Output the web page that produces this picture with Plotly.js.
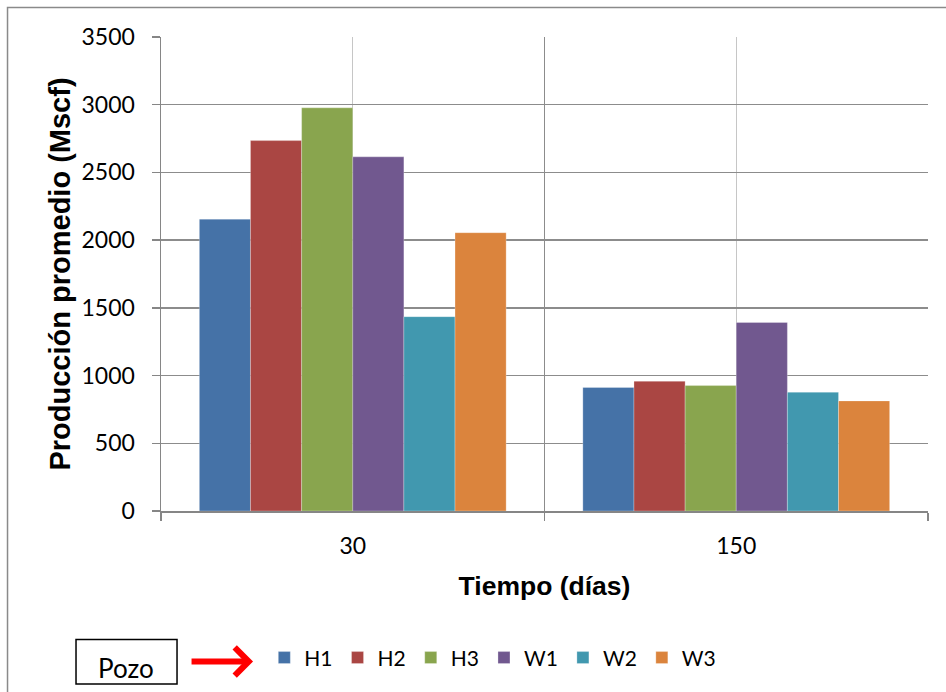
<!DOCTYPE html>
<html>
<head>
<meta charset="utf-8">
<script src="https://cdn.plot.ly/plotly-3.0.1.min.js"></script>
<style>
  html, body { margin: 0; padding: 0; background: #fff; }
  #chart { width: 946px; height: 692px; }
</style>
</head>
<body>
<div id="chart"></div>
<script>
// ---- Data ----
const categories = ['30', '150'];          // Tiempo (días)
const seriesNames = ['H1', 'H2', 'H3', 'W1', 'W2', 'W3'];
const H1 = [2155, 912];
const H2 = [2735, 958];
const H3 = [2977, 926];
const W1 = [2615, 1392];
const W2 = [1435, 877];
const W3 = [2055, 813];
const yTickVals = [0, 500, 1000, 1500, 2000, 2500, 3000, 3500];

const seriesValues = [H1, H2, H3, W1, W2, W3];
const colors = ['#4572A7', '#AA4643', '#89A54E', '#71588F', '#4198AF', '#DB843D'];
const xIdx = categories.map((c, i) => i);

const traces = seriesNames.map((name, k) => ({
  type: 'bar',
  name: name,
  x: xIdx,
  y: seriesValues[k],
  marker: { color: colors[k], line: { width: 0.6, color: 'rgba(255,255,255,0.45)' } },
  hoverinfo: 'name+y'
}));

const titleFont = { family: '"Liberation Sans", Arial, sans-serif', color: '#000' };
const tickFont = { family: 'Lato, "Open Sans", sans-serif', size: 23, color: '#000' };

const layout = {
  width: 946,
  height: 692,
  margin: { l: 161, r: 18, t: 37, b: 181 },
  paper_bgcolor: '#ffffff',
  plot_bgcolor: '#ffffff',
  barmode: 'group',
  bargap: 0.2,
  bargroupgap: 0,
  showlegend: true,
  xaxis: {
    range: [-0.5, categories.length - 0.5],
    tickmode: 'array',
    tickvals: xIdx,
    ticktext: categories,
    ticks: 'outside',
    ticklen: 14,
    tickcolor: 'rgba(0,0,0,0)',
    tickfont: tickFont,
    showgrid: true,
    gridcolor: '#c6c6c6',
    gridwidth: 1,
    showline: true,
    linecolor: '#868686',
    linewidth: 1.5,
    zeroline: false,
    minor: {
      tickmode: 'array',
      tickvals: [-0.5, 0.5, 1.5],
      ticks: 'outside',
      ticklen: 8,
      tickcolor: '#868686',
      tickwidth: 1.5,
      showgrid: true,
      gridcolor: '#8c8c8c',
      gridwidth: 1.5
    },
    title: {
      text: 'Tiempo (días)',
      font: Object.assign({ size: 26.5, weight: 'bold' }, titleFont),
      standoff: 18
    },
    fixedrange: true
  },
  yaxis: {
    range: [0, 3500],
    tickmode: 'array',
    tickvals: yTickVals,
    ticks: 'outside',
    ticklen: 8,
    tickcolor: '#868686',
    tickwidth: 1.5,
    tickfont: tickFont,
    ticklabelstandoff: 12,
    showgrid: true,
    gridcolor: '#8c8c8c',
    gridwidth: 1.5,
    showline: true,
    linecolor: '#868686',
    linewidth: 1.5,
    zeroline: false,
    title: {
      text: 'Producción promedio (Mscf)',
      font: Object.assign({ size: 29, weight: 'bold' }, titleFont),
      standoff: 2
    },
    fixedrange: true
  },
  legend: {
    orientation: 'h',
    x: 0.1347,
    xanchor: 'left',
    y: -0.31,
    yanchor: 'middle',
    font: { family: 'Lato, "Open Sans", sans-serif', size: 21, color: '#000' },
    itemwidth: 30,
    traceorder: 'normal',
    bgcolor: 'rgba(0,0,0,0)'
  },
  shapes: [
    { type: 'rect', xref: 'paper', yref: 'paper',
      x0: -0.2001, x1: 1.05, y0: -0.45, y1: 1.0622,
      line: { color: '#8a8a8a', width: 1.5 }, fillcolor: 'rgba(0,0,0,0)', layer: 'below' },
    { type: 'rect', xref: 'paper', yref: 'paper',
      x0: -0.1108, x1: 0.0209, y0: -0.365, y1: -0.2711,
      line: { color: '#000', width: 1.5 }, fillcolor: 'rgba(0,0,0,0)' }
  ],
  annotations: [
    { xref: 'paper', yref: 'paper', x: -0.045, y: -0.331,
      text: 'Pozo', showarrow: false, xanchor: 'center', yanchor: 'middle',
      font: { family: 'Lato, "Open Sans", sans-serif', size: 26, color: '#000' } },
    { xref: 'paper', yref: 'paper', x: 0.12, y: -0.3175,
      text: '', showarrow: true, ax: -63, ay: 0,
      arrowhead: 4, arrowwidth: 6, arrowsize: 0.9, arrowcolor: '#ff0000', standoff: 0 }
  ]
};

Plotly.newPlot('chart', traces, layout, { displayModeBar: false, staticPlot: true });
</script>
</body>
</html>
